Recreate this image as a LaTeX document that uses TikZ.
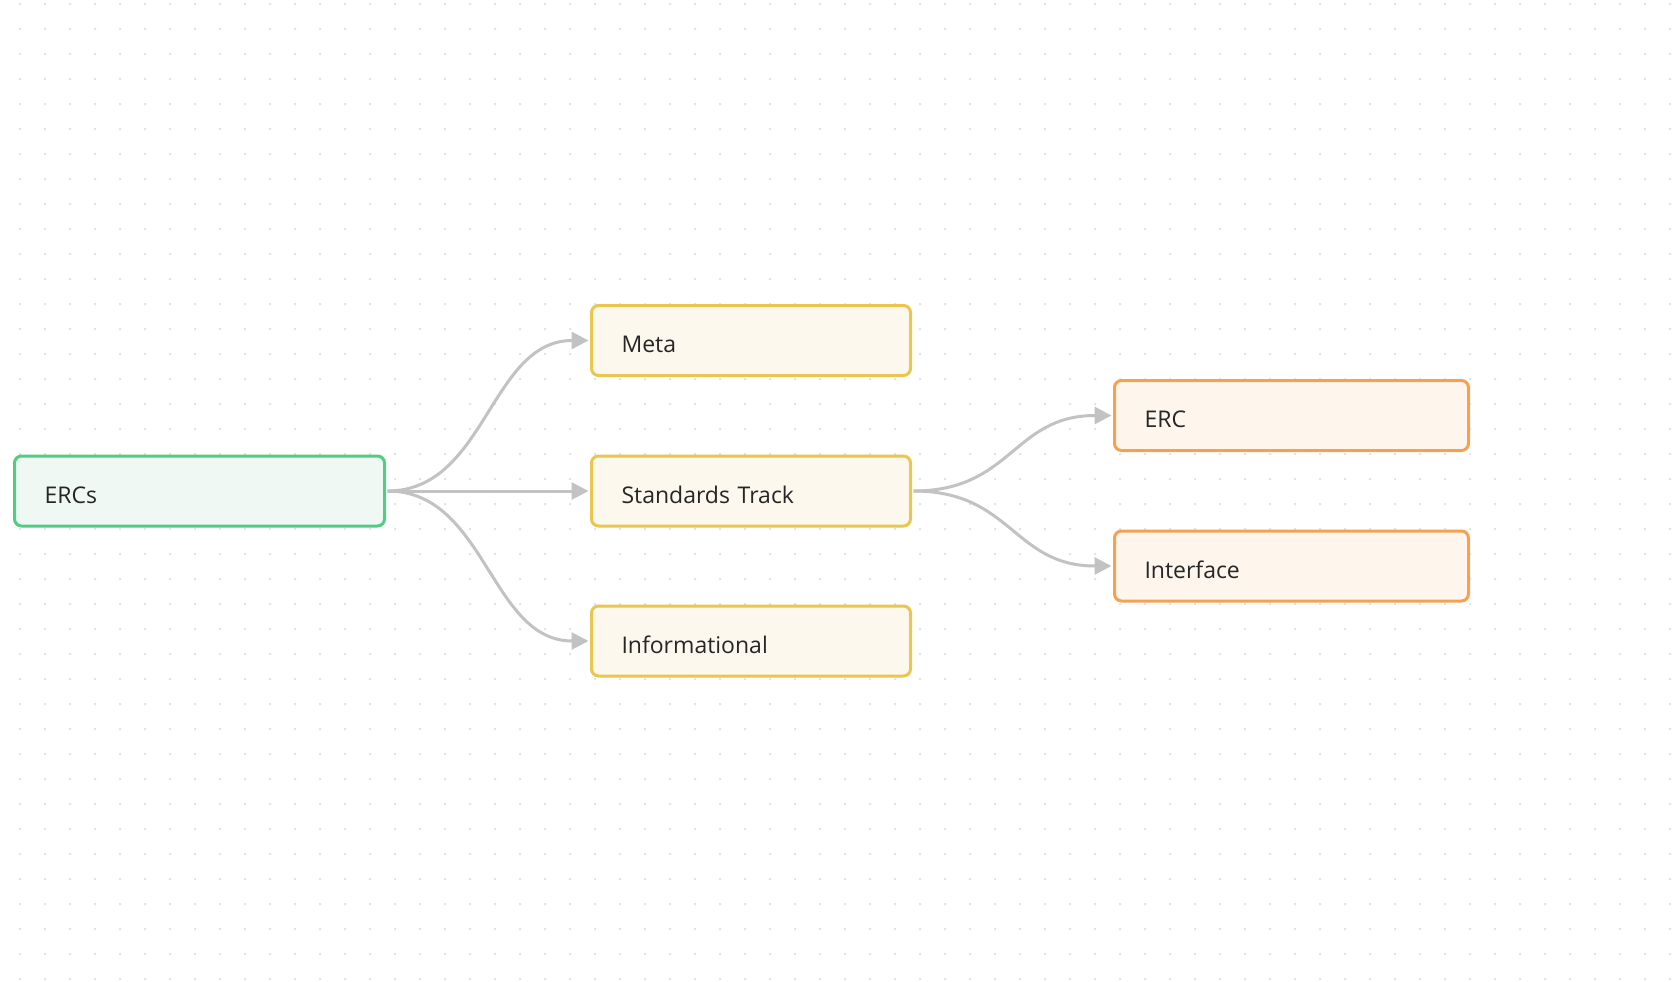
\documentclass[tikz,border=0pt]{standalone}
\usepackage{fontspec}
\setmainfont{Open Sans}
\usetikzlibrary{arrows.meta}
\definecolor{dotc}{HTML}{E3E3E3}
\definecolor{edgec}{HTML}{C2C2C2}
\definecolor{greenb}{HTML}{52CC83}
\definecolor{greenf}{HTML}{EFF8F3}
\definecolor{yellowb}{HTML}{EAC54F}
\definecolor{yellowf}{HTML}{FCF8EE}
\definecolor{orangeb}{HTML}{F3A253}
\definecolor{orangef}{HTML}{FEF5EC}
\definecolor{txt}{HTML}{262626}
\begin{document}
\begin{tikzpicture}[x=1pt,y=-1pt,
  box/.style={draw, line width=3pt, rounded corners=7pt, minimum height=70pt,
    inner xsep=30pt, inner ysep=0pt, align=left, text=txt,
    font=\fontsize{23}{28}\selectfont, text height=30pt, text depth=6pt},
  rootbox/.style={box, draw=greenb, fill=greenf, text width=310pt},
  midbox/.style={box, draw=yellowb, fill=yellowf, text width=259pt},
  leafbox/.style={box, draw=orangeb, fill=orangef, text width=294pt},
  edge/.style={draw=edgec, line width=3pt, -{Triangle[length=17pt,width=17pt]},
    shorten >=1.5pt, shorten <=1.5pt}
]
\fill[white] (0,0) rectangle (1674,982);
\useasboundingbox (0,0) rectangle (1674,982);
\fill[dotc] \foreach \i in {0,...,66} {\foreach \j in {0,...,39} {(19+25*\i, 3+25*\j) rectangle ++(2,2)}};

\node[rootbox] (ercs) at (199.5,491) {ERCs};
\node[midbox] (meta) at (751,340.5) {Meta};
\node[midbox] (std) at (751,491) {Standards Track};
\node[midbox] (info) at (751,641) {Informational};
\node[leafbox] (erc) at (1291.5,415.5) {ERC};
\node[leafbox] (iface) at (1291.5,566) {Interface};

\draw[edge] (ercs.east) .. controls +(100,0) and +(-100,0) .. (meta.west);
\draw[edge] (ercs.east) -- (std.west);
\draw[edge] (ercs.east) .. controls +(100,0) and +(-100,0) .. (info.west);
\draw[edge] (std.east) .. controls +(100,0) and +(-100,0) .. (erc.west);
\draw[edge] (std.east) .. controls +(100,0) and +(-100,0) .. (iface.west);
\end{tikzpicture}
\end{document}
